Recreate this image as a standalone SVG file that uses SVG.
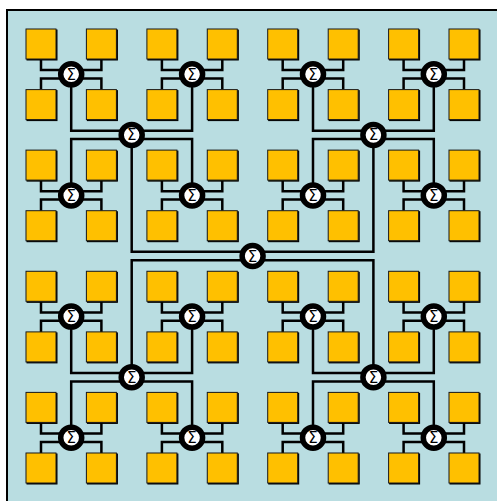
<svg xmlns="http://www.w3.org/2000/svg" width="497" height="501" viewBox="0 0 497 501">
<style>
.sq{fill:#FFC000;stroke:#1a1a1a;stroke-width:1;filter:url(#sh)}
.ln{fill:none;stroke:#000;stroke-width:2.5;stroke-linejoin:miter}
.hub{fill:#fff;stroke:#000;stroke-width:5.5}
.sig{font-family:"DejaVu Sans",sans-serif;font-size:15px;fill:#000;text-anchor:middle}
</style>
<defs>
<filter id="sh" x="-10%" y="-10%" width="130%" height="130%"><feDropShadow dx="1" dy="1" stdDeviation="0" flood-color="#000"/></filter>
</defs>
<rect x="0" y="0" width="497" height="501" fill="#fff"/>
<rect x="7" y="10" width="500" height="500" fill="#B9DDE1" stroke="#000" stroke-width="2"/>
<g id="connectors" class="ln">
<path d="M41,59V70.1H101.4V59M41,89.6V78.5H101.4V89.6"/>
<path d="M161.9,59V70.1H222.3V59M161.9,89.6V78.5H222.3V89.6"/>
<path d="M282.7,59V70.1H343.2V59M282.7,89.6V78.5H343.2V89.6"/>
<path d="M403.6,59V70.1H464V59M403.6,89.6V78.5H464V89.6"/>
<path d="M41,180.1V191.2H101.4V180.1M41,210.7V199.6H101.4V210.7"/>
<path d="M161.9,180.1V191.2H222.3V180.1M161.9,210.7V199.6H222.3V210.7"/>
<path d="M282.7,180.1V191.2H343.2V180.1M282.7,210.7V199.6H343.2V210.7"/>
<path d="M403.6,180.1V191.2H464V180.1M403.6,210.7V199.6H464V210.7"/>
<path d="M41,301.3V312.4H101.4V301.3M41,331.9V320.8H101.4V331.9"/>
<path d="M161.9,301.3V312.4H222.3V301.3M161.9,331.9V320.8H222.3V331.9"/>
<path d="M282.7,301.3V312.4H343.2V301.3M282.7,331.9V320.8H343.2V331.9"/>
<path d="M403.6,301.3V312.4H464V301.3M403.6,331.9V320.8H464V331.9"/>
<path d="M41,422.4V433.5H101.4V422.4M41,453V441.9H101.4V453"/>
<path d="M161.9,422.4V433.5H222.3V422.4M161.9,453V441.9H222.3V453"/>
<path d="M282.7,422.4V433.5H343.2V422.4M282.7,453V441.9H343.2V453"/>
<path d="M403.6,422.4V433.5H464V422.4M403.6,453V441.9H464V453"/>
<path d="M71.2,74.3V130.7H192.1V74.3M71.2,195.4V139.1H192.1V195.4"/>
<path d="M313,74.3V130.7H433.8V74.3M313,195.4V139.1H433.8V195.4"/>
<path d="M71.2,316.6V373H192.1V316.6M71.2,437.7V381.4H192.1V437.7"/>
<path d="M313,316.6V373H433.8V316.6M313,437.7V381.4H433.8V437.7"/>
<path d="M131.7,134.9V251.8H373.4V134.9M131.7,377.2V260.2H373.4V377.2"/>
</g>
<g id="squares">
<g id="s00"><rect class="sq" x="26" y="29" width="30" height="30"/></g>
<g id="s01"><rect class="sq" x="86.4" y="29" width="30" height="30"/></g>
<g id="s02"><rect class="sq" x="146.9" y="29" width="30" height="30"/></g>
<g id="s03"><rect class="sq" x="207.3" y="29" width="30" height="30"/></g>
<g id="s04"><rect class="sq" x="267.7" y="29" width="30" height="30"/></g>
<g id="s05"><rect class="sq" x="328.2" y="29" width="30" height="30"/></g>
<g id="s06"><rect class="sq" x="388.6" y="29" width="30" height="30"/></g>
<g id="s07"><rect class="sq" x="449" y="29" width="30" height="30"/></g>
<g id="s10"><rect class="sq" x="26" y="89.6" width="30" height="30"/></g>
<g id="s11"><rect class="sq" x="86.4" y="89.6" width="30" height="30"/></g>
<g id="s12"><rect class="sq" x="146.9" y="89.6" width="30" height="30"/></g>
<g id="s13"><rect class="sq" x="207.3" y="89.6" width="30" height="30"/></g>
<g id="s14"><rect class="sq" x="267.7" y="89.6" width="30" height="30"/></g>
<g id="s15"><rect class="sq" x="328.2" y="89.6" width="30" height="30"/></g>
<g id="s16"><rect class="sq" x="388.6" y="89.6" width="30" height="30"/></g>
<g id="s17"><rect class="sq" x="449" y="89.6" width="30" height="30"/></g>
<g id="s20"><rect class="sq" x="26" y="150.1" width="30" height="30"/></g>
<g id="s21"><rect class="sq" x="86.4" y="150.1" width="30" height="30"/></g>
<g id="s22"><rect class="sq" x="146.9" y="150.1" width="30" height="30"/></g>
<g id="s23"><rect class="sq" x="207.3" y="150.1" width="30" height="30"/></g>
<g id="s24"><rect class="sq" x="267.7" y="150.1" width="30" height="30"/></g>
<g id="s25"><rect class="sq" x="328.2" y="150.1" width="30" height="30"/></g>
<g id="s26"><rect class="sq" x="388.6" y="150.1" width="30" height="30"/></g>
<g id="s27"><rect class="sq" x="449" y="150.1" width="30" height="30"/></g>
<g id="s30"><rect class="sq" x="26" y="210.7" width="30" height="30"/></g>
<g id="s31"><rect class="sq" x="86.4" y="210.7" width="30" height="30"/></g>
<g id="s32"><rect class="sq" x="146.9" y="210.7" width="30" height="30"/></g>
<g id="s33"><rect class="sq" x="207.3" y="210.7" width="30" height="30"/></g>
<g id="s34"><rect class="sq" x="267.7" y="210.7" width="30" height="30"/></g>
<g id="s35"><rect class="sq" x="328.2" y="210.7" width="30" height="30"/></g>
<g id="s36"><rect class="sq" x="388.6" y="210.7" width="30" height="30"/></g>
<g id="s37"><rect class="sq" x="449" y="210.7" width="30" height="30"/></g>
<g id="s40"><rect class="sq" x="26" y="271.3" width="30" height="30"/></g>
<g id="s41"><rect class="sq" x="86.4" y="271.3" width="30" height="30"/></g>
<g id="s42"><rect class="sq" x="146.9" y="271.3" width="30" height="30"/></g>
<g id="s43"><rect class="sq" x="207.3" y="271.3" width="30" height="30"/></g>
<g id="s44"><rect class="sq" x="267.7" y="271.3" width="30" height="30"/></g>
<g id="s45"><rect class="sq" x="328.2" y="271.3" width="30" height="30"/></g>
<g id="s46"><rect class="sq" x="388.6" y="271.3" width="30" height="30"/></g>
<g id="s47"><rect class="sq" x="449" y="271.3" width="30" height="30"/></g>
<g id="s50"><rect class="sq" x="26" y="331.9" width="30" height="30"/></g>
<g id="s51"><rect class="sq" x="86.4" y="331.9" width="30" height="30"/></g>
<g id="s52"><rect class="sq" x="146.9" y="331.9" width="30" height="30"/></g>
<g id="s53"><rect class="sq" x="207.3" y="331.9" width="30" height="30"/></g>
<g id="s54"><rect class="sq" x="267.7" y="331.9" width="30" height="30"/></g>
<g id="s55"><rect class="sq" x="328.2" y="331.9" width="30" height="30"/></g>
<g id="s56"><rect class="sq" x="388.6" y="331.9" width="30" height="30"/></g>
<g id="s57"><rect class="sq" x="449" y="331.9" width="30" height="30"/></g>
<g id="s60"><rect class="sq" x="26" y="392.4" width="30" height="30"/></g>
<g id="s61"><rect class="sq" x="86.4" y="392.4" width="30" height="30"/></g>
<g id="s62"><rect class="sq" x="146.9" y="392.4" width="30" height="30"/></g>
<g id="s63"><rect class="sq" x="207.3" y="392.4" width="30" height="30"/></g>
<g id="s64"><rect class="sq" x="267.7" y="392.4" width="30" height="30"/></g>
<g id="s65"><rect class="sq" x="328.2" y="392.4" width="30" height="30"/></g>
<g id="s66"><rect class="sq" x="388.6" y="392.4" width="30" height="30"/></g>
<g id="s67"><rect class="sq" x="449" y="392.4" width="30" height="30"/></g>
<g id="s70"><rect class="sq" x="26" y="453" width="30" height="30"/></g>
<g id="s71"><rect class="sq" x="86.4" y="453" width="30" height="30"/></g>
<g id="s72"><rect class="sq" x="146.9" y="453" width="30" height="30"/></g>
<g id="s73"><rect class="sq" x="207.3" y="453" width="30" height="30"/></g>
<g id="s74"><rect class="sq" x="267.7" y="453" width="30" height="30"/></g>
<g id="s75"><rect class="sq" x="328.2" y="453" width="30" height="30"/></g>
<g id="s76"><rect class="sq" x="388.6" y="453" width="30" height="30"/></g>
<g id="s77"><rect class="sq" x="449" y="453" width="30" height="30"/></g>
</g>
<g id="hubs">
<g id="h1_00" transform="translate(71.2,74.3)"><circle class="hub" r="10.5"/><text class="sig" y="5.5">Σ</text></g>
<g id="h1_01" transform="translate(192.1,74.3)"><circle class="hub" r="10.5"/><text class="sig" y="5.5">Σ</text></g>
<g id="h1_02" transform="translate(313,74.3)"><circle class="hub" r="10.5"/><text class="sig" y="5.5">Σ</text></g>
<g id="h1_03" transform="translate(433.8,74.3)"><circle class="hub" r="10.5"/><text class="sig" y="5.5">Σ</text></g>
<g id="h1_10" transform="translate(71.2,195.4)"><circle class="hub" r="10.5"/><text class="sig" y="5.5">Σ</text></g>
<g id="h1_11" transform="translate(192.1,195.4)"><circle class="hub" r="10.5"/><text class="sig" y="5.5">Σ</text></g>
<g id="h1_12" transform="translate(313,195.4)"><circle class="hub" r="10.5"/><text class="sig" y="5.5">Σ</text></g>
<g id="h1_13" transform="translate(433.8,195.4)"><circle class="hub" r="10.5"/><text class="sig" y="5.5">Σ</text></g>
<g id="h1_20" transform="translate(71.2,316.6)"><circle class="hub" r="10.5"/><text class="sig" y="5.5">Σ</text></g>
<g id="h1_21" transform="translate(192.1,316.6)"><circle class="hub" r="10.5"/><text class="sig" y="5.5">Σ</text></g>
<g id="h1_22" transform="translate(313,316.6)"><circle class="hub" r="10.5"/><text class="sig" y="5.5">Σ</text></g>
<g id="h1_23" transform="translate(433.8,316.6)"><circle class="hub" r="10.5"/><text class="sig" y="5.5">Σ</text></g>
<g id="h1_30" transform="translate(71.2,437.7)"><circle class="hub" r="10.5"/><text class="sig" y="5.5">Σ</text></g>
<g id="h1_31" transform="translate(192.1,437.7)"><circle class="hub" r="10.5"/><text class="sig" y="5.5">Σ</text></g>
<g id="h1_32" transform="translate(313,437.7)"><circle class="hub" r="10.5"/><text class="sig" y="5.5">Σ</text></g>
<g id="h1_33" transform="translate(433.8,437.7)"><circle class="hub" r="10.5"/><text class="sig" y="5.5">Σ</text></g>
<g id="h2_00" transform="translate(131.7,134.9)"><circle class="hub" r="10.5"/><text class="sig" y="5.5">Σ</text></g>
<g id="h2_01" transform="translate(373.4,134.9)"><circle class="hub" r="10.5"/><text class="sig" y="5.5">Σ</text></g>
<g id="h2_10" transform="translate(131.7,377.2)"><circle class="hub" r="10.5"/><text class="sig" y="5.5">Σ</text></g>
<g id="h2_11" transform="translate(373.4,377.2)"><circle class="hub" r="10.5"/><text class="sig" y="5.5">Σ</text></g>
<g id="h3" transform="translate(252.6,256)"><circle class="hub" r="10.5"/><text class="sig" y="5.5">Σ</text></g>
</g>
</svg>
